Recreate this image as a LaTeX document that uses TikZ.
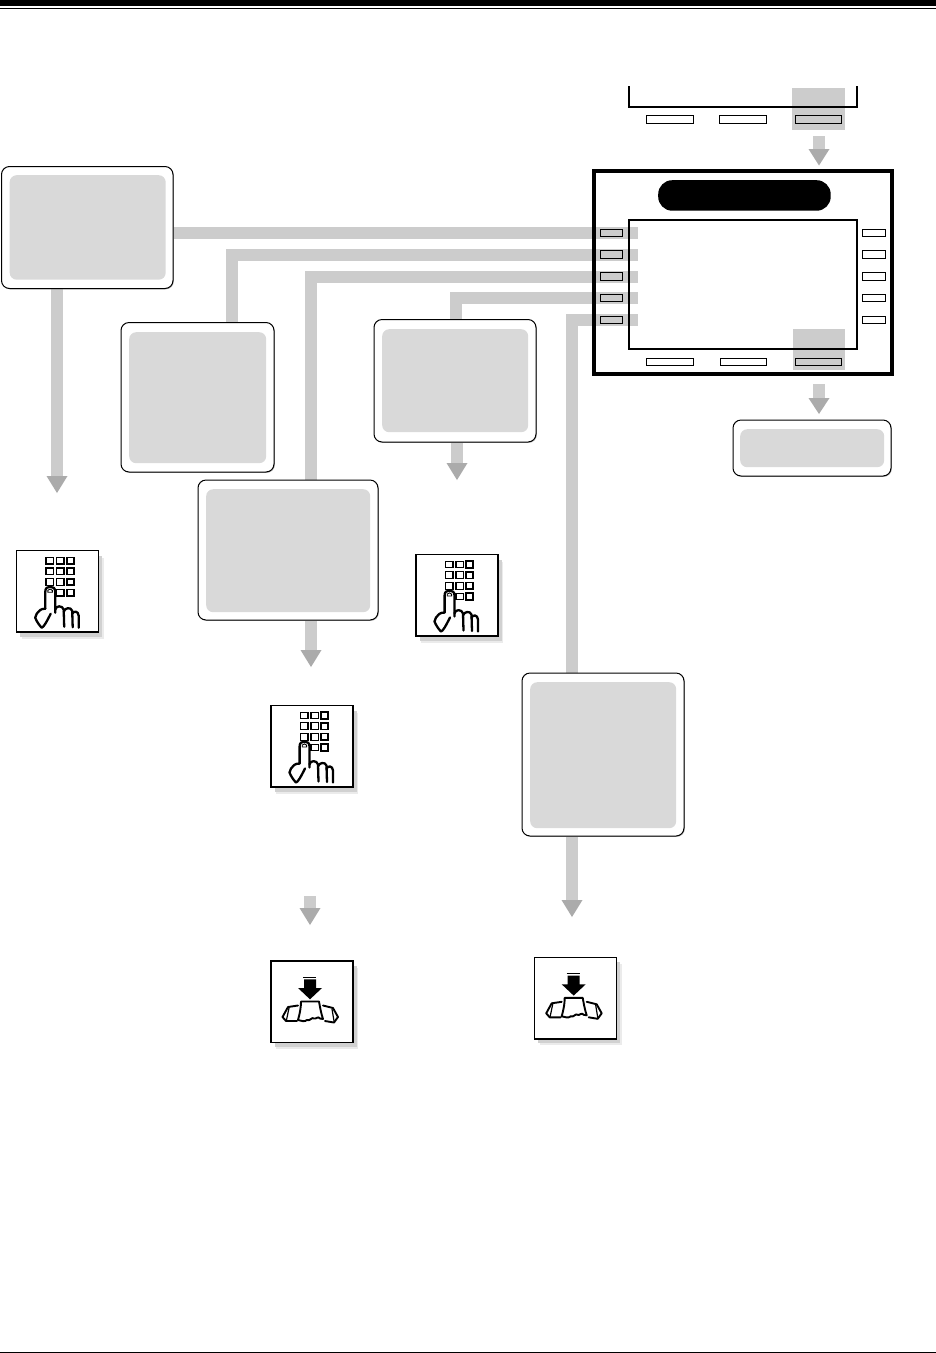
\documentclass[tikz,border=0pt]{standalone}
\definecolor{bar}{HTML}{CCCCCC}
\definecolor{tipgray}{HTML}{ABABAB}
\definecolor{inner}{HTML}{D9D9D9}
\tikzset{
  conn/.style={draw=bar,line width=12pt,line cap=butt,line join=miter},
  tiphead/.style={fill=tipgray,draw=none},
  boxouter/.style={draw=black,line width=1pt,fill=white,rounded corners=8pt,anchor=north west,inner sep=0pt,outer sep=0pt},
  boxinner/.style={fill=inner,draw=none,rounded corners=7pt,anchor=north west,inner sep=0pt},
  softkey/.style={draw=black,line width=0.9pt,anchor=north west,inner sep=0pt,outer sep=0pt,minimum width=22.5pt,minimum height=7.6pt},
  softkeyw/.style={draw=black,line width=0.9pt,anchor=north west,inner sep=0pt,outer sep=0pt,minimum height=7.6pt},
  patch/.style={fill=bar,draw=none,anchor=north west,inner sep=0pt},
  frameline/.style={draw=black,anchor=north west,inner sep=0pt,outer sep=0pt},
  iconframe/.style={draw=black,line width=1.5pt,fill=white,anchor=north west,inner sep=0pt,outer sep=0pt,minimum width=82pt,minimum height=81.5pt},
  keycap/.style={draw=black,line width=1.2pt,fill=white},
  handline/.style={draw=black,line width=2.3pt,line cap=round,line join=round},
  pics/keypad/.style={code={
    \foreach \v in {6.7,17.3,28,38.7}{
      \draw[keycap] (29.3,\v) rectangle (37.0,\v+6.6);
      \draw[keycap] (40,\v) rectangle (47.3,\v+6.6);
      \draw[keycap,line width=1.7pt] (50.3,\v) rectangle (57.2,\v+6.6);
    }
    \fill[white] (28.5,37) -- (38.5,37) -- (38.5,62) -- (28.5,62) -- cycle;
    \draw[handline,fill=white] (28.6,58) -- (28.6,41) .. controls (28.6,37.5) and (30.5,36) .. (33.5,36) .. controls (36.5,36) and (38.5,37.5) .. (38.5,41) -- (38.5,62);
    \draw[black,line width=0.9pt] (31.2,41.5) -- (31.2,39.6) .. controls (31.5,38) and (35.3,38) .. (35.6,39.6) -- (35.6,41.5) -- cycle;
    \draw[handline] (28.6,58) .. controls (24,58) and (22,60) .. (20,63) -- (18.5,67) .. controls (20,71) and (23,75) .. (25,77) .. controls (27,76.5) and (30,71) .. (34,63);
    \draw[handline] (38.5,59) .. controls (39,54.5) and (46,54.5) .. (47,59) -- (47.5,76);
    \draw[handline] (47,61) .. controls (48,57) and (54,56) .. (55.5,60) -- (56,76.5);
    \draw[handline] (55.5,63) .. controls (57,60) and (61.5,60) .. (62,65) -- (62,77);
  }},
  pics/handset/.style={code={
    \draw[black,line width=1pt] (32,16) -- (45,16);
    \fill[black] (33,18.3) rectangle (45,27) (27,27) -- (51,27) -- (39,38.3) -- cycle;
    \draw[handline,line width=1.9pt] (30,40.5) -- (48,40.5) .. controls (49,46) and (50,52) .. (52,58) -- (49,57.5) .. controls (47,54.5) and (45,58.5) .. (43,57.5) .. controls (41,55.5) and (39,60.5) .. (36,59) .. controls (34,61) and (30,60) .. (27,59) .. controls (29,52) and (30,46) .. (30,40.5) -- cycle;
    \draw[handline,line width=1.9pt] (27,44.5) -- (17,46) -- (11.5,56) -- (15,60) -- (26,60);
    \draw[handline,line width=1.2pt] (18,47) -- (15.5,59);
    \draw[handline,line width=1.9pt] (52,44.5) -- (62,47) -- (67,56) -- (63,61.5) -- (54,60);
    \draw[handline,line width=1.2pt] (61,48) -- (63,60);
  }}
}
\newcommand{\iconshadow}[2]{%
  \fill[black!8] (#1+5,#2+7) rectangle (#1+87,#2+88);
  \fill[black!18] (#1+3.5,#2+5) rectangle (#1+85.5,#2+86);
}
\begin{document}
\begin{tikzpicture}[x=1pt,y=-1pt]
\useasboundingbox (0,0) rectangle (936,1353);
\fill[white] (0,0) rectangle (936,1353);
% page rules
\coordinate (ruleL) at (0,8);
\coordinate (ruleR) at (936,8);
\fill[black] (0,0) rectangle (936,6);
\draw[line width=1pt] (ruleL) -- (ruleR);
\coordinate (footL) at (0,1352.4);
\coordinate (footR) at (936,1352.4);
\draw[line width=1pt] (footL) -- (footR);
% connector ends
\coordinate (e1) at (638,233);
\coordinate (e2) at (638,255);
\coordinate (e3) at (638,277);
\coordinate (e4) at (638,298);
\coordinate (e5) at (638,320);
% patches
\node[patch,minimum width=53pt,minimum height=42pt] (toppatch) at (792,88) {};
\node[patch,minimum width=52pt,minimum height=41pt] (botpatch) at (793,329) {};
\draw[conn] (173,233) -- (e1);
\draw[conn] (232,323) -- (232,255) -- (e2);
\draw[conn] (311,481) -- (311,277) -- (e3);
\draw[conn] (456,320) -- (456,298) -- (e4);
\draw[conn] (572,674) -- (572,320) -- (e5);
% down arrows
\coordinate (a1) at (57,476);
\coordinate (a2) at (311,650);
\coordinate (a3) at (457,463);
\coordinate (a4) at (572,900);
\draw[conn] (57,288) -- (a1);
\fill[tiphead] (46.5,476) -- (67.5,476) -- (57,493) -- cycle;
\draw[conn] (311,620) -- (a2);
\fill[tiphead] (300.5,650) -- (321.5,650) -- (311,667) -- cycle;
\draw[conn] (457,442) -- (a3);
\fill[tiphead] (446.5,463) -- (467.5,463) -- (457,480) -- cycle;
\draw[conn] (572,836) -- (a4);
\fill[tiphead] (561.5,900) -- (582.5,900) -- (572,917) -- cycle;
\coordinate (b1s) at (310,896);
\coordinate (b1e) at (310,909);
\draw[conn] (b1s) -- (b1e);
\fill[tiphead] (299.5,908) -- (320.5,908) -- (310,925) -- cycle;
\coordinate (b2s) at (819,136);
\coordinate (b2e) at (819,149);
\draw[conn] (b2s) -- (b2e);
\fill[tiphead] (808.5,149) -- (829.5,149) -- (819,165.5) -- cycle;
\coordinate (b3s) at (819,384);
\coordinate (b3e) at (819,398);
\draw[conn] (b3s) -- (b3e);
\fill[tiphead] (808.5,398) -- (829.5,398) -- (819,414) -- cycle;
% callout boxes
\foreach \nm/\x/\y/\w/\h/\ix/\iy/\iw/\ih in {A/1.5/166.5/171.5/122/9.5/175/156/104.5,
  B/121/322.5/153/149.5/129/332/137/131,
  C/198/480/180/140/206/489/164/123,
  D/374/319.5/162/122.5/382/329/146/103,
  E/522/673/162/163/530/682/146/146,
  F/733/420/158/56/740/429/144/38}{
  \fill[black!30,rounded corners=8pt] (\x+0.8,\y+0.8) rectangle ++(\w,\h);
  \node[boxouter,minimum width=\w pt,minimum height=\h pt] (box\nm) at (\x,\y) {};
  \node[boxinner,minimum width=\iw pt,minimum height=\ih pt] (fill\nm) at (\ix,\iy) {};
}
% top display fragment
\draw[black,line width=2pt] (629,86) -- (629,106.7) -- (857,106.7) -- (857,86);
\foreach \x/\w/\n in {646.3/47.4/a,719.3/47/b,795/46.5/c}
  \node[softkeyw,minimum width=\w pt] (tk\n) at (\x,115.5) {};
% main frame
\node[frameline,line width=4pt,minimum width=298pt,minimum height=203pt] (frame) at (594,171) {};
\node[fill=black,draw=none,rounded corners=14pt,anchor=north west,inner sep=0pt,minimum width=172.5pt,minimum height=30.5pt] (pill) at (658,180) {};
\node[frameline,line width=2pt,minimum width=228pt,minimum height=128.5pt] (screen) at (629,220) {};
\foreach \y/\n in {229.3/1,250.5/2,272.5/3,294.3/4,316.3/5}{
  \node[softkey] (kl\n) at (600.3,\y) {};
  \node[softkey] (kr\n) at (862.5,\y) {};
}
\foreach \x/\w/\n in {646.3/47.4/a,720.3/46/b,795/46.5/c}
  \node[softkeyw,minimum width=\w pt] (bk\n) at (\x,358.3) {};
% icons
\foreach \x/\y/\n in {16.7/550.7/1,416/554.5/2,271/705.5/3}{
  \iconshadow{\x}{\y}
  \node[iconframe] (pad\n) at (\x,\y) {};
  \pic at (\x,\y) {keypad};
}
\foreach \x/\y/\n in {271/961/1,534.7/957.3/2}{
  \iconshadow{\x}{\y}
  \node[iconframe] (hs\n) at (\x,\y) {};
  \pic at (\x,\y) {handset};
}
\end{tikzpicture}
\end{document}
